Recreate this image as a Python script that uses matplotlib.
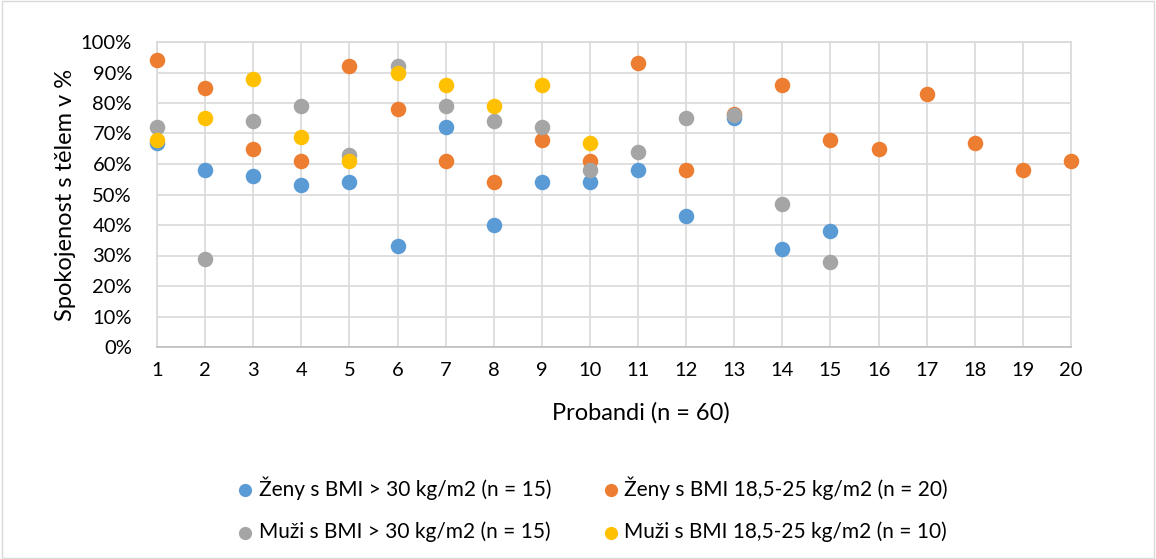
import matplotlib.pyplot as plt
from matplotlib.ticker import PercentFormatter
from matplotlib.patches import Rectangle

plt.rcParams['font.family'] = ['Lato', 'DejaVu Sans']

# Spokojenost s tělem (%) podle skupin, proband 1..n
zeny_obez = [67, 58, 56, 53, 54, 33, 72, 40, 54, 54, 58, 43, 75, 32, 38]
zeny_norm = [94, 85, 65, 61, 92, 78, 61, 54, 68, 61, 93, 58, 76.3, 86, 68, 65, 83, 67, 58, 61]
muzi_obez = [72, 29, 74, 79, 63, 92, 79, 74, 72, 58, 64, 75, 76, 47, 28]
muzi_norm = [68, 75, 88, 69, 61, 90, 86, 79, 86, 67]

series = [
    (zeny_obez, '#5b9bd5', 'Ženy s BMI > 30 kg/m2 (n = 15)'),
    (zeny_norm, '#ed7d31', 'Ženy s BMI 18,5-25 kg/m2 (n = 20)'),
    (muzi_obez, '#a5a5a5', 'Muži s BMI > 30 kg/m2 (n = 15)'),
    (muzi_norm, '#ffc000', 'Muži s BMI 18,5-25 kg/m2 (n = 10)'),
]

fig = plt.figure(figsize=(11.56, 5.59), dpi=100)
ax = fig.add_axes([157 / 1156, 1 - 347 / 559, (1071 - 157) / 1156, (347 - 42) / 559])

handles = []
for vals, col, lab in series:
    x = list(range(1, len(vals) + 1))
    h = ax.scatter(x, vals, s=125, color=col, label=lab, clip_on=False, zorder=3, linewidths=0)
    handles.append(h)

ax.set_xlim(1, 20)
ax.set_ylim(0, 100)
ax.set_xticks(range(1, 21))
ax.set_yticks(range(0, 101, 10))
ax.yaxis.set_major_formatter(PercentFormatter(decimals=0))
ax.grid(True, color='#d9d9d9', linewidth=1.2)
ax.set_axisbelow(True)
for s in ax.spines.values():
    s.set_color('#d9d9d9')
    s.set_linewidth(1.2)
ax.spines['bottom'].set_color('#bfbfbf')
ax.tick_params(axis='x', length=0, labelsize=14.5, pad=11)
ax.tick_params(axis='y', length=0, labelsize=14.5, pad=18)
ax.set_xlabel('Probandi (n = 60)', fontsize=17, labelpad=16.5)
ax.xaxis.label.set_x((641 - 157) / 914)
ax.set_ylabel('Spokojenost s tělem v %', fontsize=17, labelpad=3.5)

order = [0, 2, 1, 3]
leg = fig.legend([handles[i] for i in order], [series[i][2] for i in order],
                 ncol=2, loc='center', bbox_to_anchor=(0.512, 1 - 509 / 559),
                 frameon=False, fontsize=15, markerscale=0.85, handletextpad=0.2,
                 columnspacing=2.4, labelspacing=1.05, handlelength=0.9)

# rámeček grafu
fig.patches.append(Rectangle((0.002, 0.002), 0.996, 0.996, transform=fig.transFigure,
                             fill=False, edgecolor='#d9d9d9', linewidth=1))

fig.savefig('out.png', dpi=100)
